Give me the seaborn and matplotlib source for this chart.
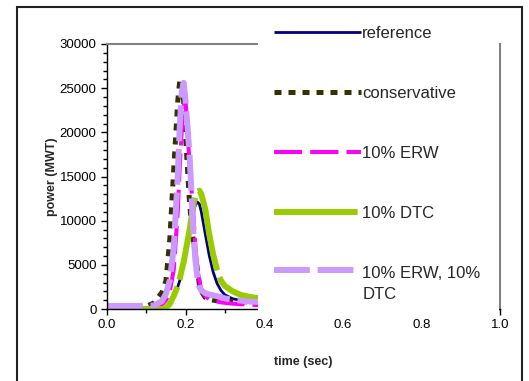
import numpy as np
import pandas as pd
import seaborn as sns
import matplotlib.pyplot as plt
from matplotlib.patches import Rectangle
from matplotlib.ticker import MultipleLocator

# time axis (sec) shared by every series
time = [0.0, 0.05, 0.10, 0.12, 0.14, 0.15, 0.16, 0.17, 0.18, 0.185, 0.19, 0.195, 0.20,
        0.21, 0.22, 0.225, 0.23, 0.235, 0.24, 0.25, 0.26, 0.27, 0.28, 0.29, 0.30,
        0.32, 0.34, 0.36, 0.38, 0.40, 0.60, 0.80, 1.00]

# power (MWT)
reference = [0, 0, 0, 0, 0, 50, 500, 1400, 2500, 3200, 4000, 5000, 6200,
             8600, 11000, 11800, 12100, 11900, 11000, 8500, 6100, 4200, 2900, 2100, 1600,
             1150, 1000, 950, 900, 880, 600, 450, 350]
conservative = [0, 0, 300, 700, 1900, 3200, 8000, 16000, 23500, 25800, 26000, 23500, 19500,
                12000, 7500, 6000, 4500, 2800, 2000, 1300, 1100, 1000, 950, 900, 880,
                850, 830, 810, 800, 790, 600, 450, 350]
erw = [0, 0, 100, 200, 500, 1000, 2000, 4500, 11000, 16000, 20000, 23000, 23500,
       16500, 10500, 7000, 4500, 3200, 2200, 1500, 1100, 950, 850, 750, 700,
       600, 550, 500, 450, 450, 400, 350, 300]
dtc = [0, 0, 0, 0, 0, 100, 600, 1500, 2600, 3400, 4400, 5300, 6500,
       8900, 11800, 12800, 13300, 13400, 13000, 11300, 8500, 6200, 4400, 3200, 2600,
       2000, 1600, 1400, 1250, 1200, 800, 600, 450]
erw_dtc = [350, 350, 350, 400, 900, 1700, 3300, 7000, 15000, 20500, 24500, 25600, 23500,
           17500, 8500, 5500, 3600, 2500, 2100, 1800, 1650, 1550, 1450, 1350, 1200,
           1050, 950, 850, 800, 780, 600, 500, 420]

labels = ["reference", "conservative", "10% ERW", "10% DTC", "10% ERW, 10%\nDTC"]
colors = ["#000080", "#333300", "#FF00FF", "#99CC00", "#CC99FF"]
widths = [2.0, 3.6, 2.9, 4.3, 4.3]
styles = ["-", (0, (1.4, 1.4)), (0, (7, 2)), (0, (14, 1.2)), (0, (6, 1.3))]

df = pd.DataFrame({"time": time, "reference": reference, "conservative": conservative,
                   "erw": erw, "dtc": dtc, "erw_dtc": erw_dtc})

sns.set_theme(style="white")
plt.rcParams["font.family"] = ["Liberation Sans", "DejaVu Sans"]

fig = plt.figure(figsize=(5.29, 3.81), dpi=100)
ax = fig.add_axes([107 / 529, 72 / 381, 393 / 529, 265 / 381])

for col, lab, c, w, ls in zip(["reference", "conservative", "erw", "dtc", "erw_dtc"],
                              labels, colors, widths, styles):
    sns.lineplot(data=df, x="time", y=col, color=c, lw=w, linestyle=ls,
                 label=lab, ax=ax, sort=False, solid_capstyle="butt")

ax.set_xlim(0, 1.0)
ax.set_ylim(0, 30000)
ax.xaxis.set_major_locator(MultipleLocator(0.2))
ax.xaxis.set_minor_locator(MultipleLocator(0.1))
ax.yaxis.set_major_locator(MultipleLocator(5000))
ax.yaxis.set_minor_locator(MultipleLocator(1000))
ax.xaxis.set_major_formatter(plt.FormatStrFormatter("%.1f"))
ax.tick_params(axis="both", which="major", labelsize=9.5, colors="black",
               direction="out", length=4, width=1)
ax.tick_params(axis="both", which="minor", direction="out", length=3, width=1,
               colors="black")
ax.tick_params(axis="x", which="both", bottom=True)
ax.tick_params(axis="y", which="both", left=True)

for s in ["left", "bottom"]:
    ax.spines[s].set_color("black")
    ax.spines[s].set_linewidth(1.0)
for s in ["top", "right"]:
    ax.spines[s].set_color("#808080")
    ax.spines[s].set_linewidth(1.5)

ax.set_xlabel("time (sec)", fontsize=9, fontweight="bold", labelpad=18)
ax.set_ylabel("power (MWT)", fontsize=9, fontweight="bold", labelpad=1)

# white block behind the legend, as in the original chart
ax.add_patch(Rectangle((0.384, -0.035), 0.6135, 1.2, transform=ax.transAxes,
                       facecolor="white", edgecolor="none", zorder=4, clip_on=False))

leg = ax.legend(loc="upper left", bbox_to_anchor=(274 / 529, 1 - 26 / 381),
                bbox_transform=fig.transFigure, frameon=False, fontsize=12,
                handlelength=5.2, handletextpad=0.1, labelspacing=2.7,
                borderpad=0, borderaxespad=0)
leg.set_zorder(6)
leg.texts[-1].set_linespacing(1.5)
# keep the last handle level with the first line of its two-line label
last = leg.legend_handles[-1]
last.set_ydata(np.asarray(last.get_ydata()) + 10)

fig.add_artist(Rectangle((17 / 529, -0.1), 505 / 529, 1.1 - 7 / 381,
                         transform=fig.transFigure, fill=False,
                         edgecolor="#222222", lw=1.5))

fig.savefig("out.png", dpi=100)
